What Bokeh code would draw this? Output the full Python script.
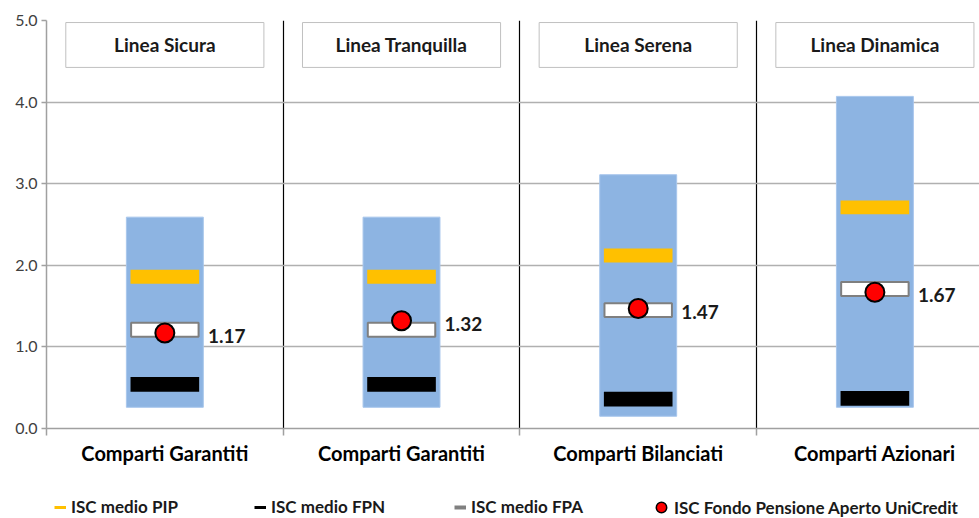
from bokeh.plotting import figure
from bokeh.layouts import column
from bokeh.models import FixedTicker, Legend, LegendItem, Range1d, PrintfTickFormatter
from bokeh.core.properties import value
from bokeh.embed import file_html
from bokeh.resources import INLINE

# ---- data ----
lines = ["Linea Sicura", "Linea Tranquilla", "Linea Serena", "Linea Dinamica"]
categories = ["Comparti Garantiti", "Comparti Garantiti", "Comparti Bilanciati", "Comparti Azionari"]
range_min = [0.26, 0.26, 0.15, 0.26]
range_max = [2.59, 2.59, 3.11, 4.07]
isc_pip = [1.86, 1.86, 2.12, 2.71]
isc_fpn = [0.54, 0.54, 0.36, 0.37]
isc_fpa = [1.21, 1.21, 1.45, 1.71]
isc_unicredit = [1.17, 1.32, 1.47, 1.67]
y_ticks = [0, 1, 2, 3, 4, 5]
title_level = 4.70
legend_labels = ["ISC medio PIP", "ISC medio FPN", "ISC medio FPA", "ISC Fondo Pensione Aperto UniCredit"]

FONT = "Lato"
NAN = float("nan")
xs = [i + 0.5 for i in range(len(lines))]

p = figure(width=979, height=490, output_backend="svg", toolbar_location=None,
           x_range=Range1d(0, 3.942), y_range=Range1d(0, 5),
           min_border_left=46, min_border_right=0, min_border_top=20, min_border_bottom=62)
p.outline_line_color = None
p.background_fill_color = "white"
p.border_fill_color = "white"

# grids
p.ygrid.ticker = FixedTicker(ticks=y_ticks)
p.ygrid.grid_line_color = "#b0b0b0"
p.ygrid.grid_line_width = 1.5
p.xgrid.ticker = FixedTicker(ticks=[1, 2, 3])
p.xgrid.grid_line_color = "#000000"
p.xgrid.grid_line_width = 1.2

# y axis
p.yaxis.ticker = FixedTicker(ticks=y_ticks)
p.yaxis.formatter = PrintfTickFormatter(format="%.1f")
p.yaxis.axis_line_color = "#a0a0a0"
p.yaxis.axis_line_width = 1.5
p.yaxis.major_tick_line_color = "#a0a0a0"
p.yaxis.major_tick_line_width = 1.5
p.yaxis.major_tick_out = 5
p.yaxis.major_tick_in = 0
p.yaxis.minor_tick_line_color = None
p.yaxis.major_label_standoff = 4
p.yaxis.major_label_text_font = FONT
p.yaxis.major_label_text_font_size = "16px"
p.yaxis.major_label_text_color = "#404040"

# x axis (category labels centred in each panel, tick marks at panel borders)
p.xaxis.ticker = FixedTicker(ticks=xs, minor_ticks=[0, 1, 2, 3, 4])
p.xaxis.major_label_overrides = {x: c for x, c in zip(xs, categories)}
p.xaxis.axis_line_color = "#a0a0a0"
p.xaxis.axis_line_width = 1.5
p.xaxis.major_tick_line_color = None
p.xaxis.minor_tick_line_color = "#a0a0a0"
p.xaxis.minor_tick_line_width = 1.5
p.xaxis.minor_tick_out = 7
p.xaxis.minor_tick_in = 0
p.xaxis.major_label_standoff = 5
p.xaxis.major_label_text_font = FONT
p.xaxis.major_label_text_font_size = "20px"
p.xaxis.major_label_text_font_style = "bold"
p.xaxis.major_label_text_color = "#000000"

# ranges (blue bars)
p.vbar(x=xs, top=range_max, bottom=range_min, width=0.325,
       fill_color="#8DB4E2", line_color="#A8C6EC", line_width=1)

# average markers
p.rect(x=xs, y=isc_pip, width=0.29, height=0.17, fill_color="#FFC000", line_color=None)
p.rect(x=xs, y=isc_fpn, width=0.29, height=0.18, fill_color="#000000", line_color=None)
p.rect(x=xs, y=isc_fpa, width=0.285, height=0.17, fill_color="white",
       line_color="#7f7f7f", line_width=2)

# UniCredit dots
p.scatter(x=xs, y=isc_unicredit, size=19, fill_color="#FF0000", line_color="#000000", line_width=2)
p.text(x=[x + 0.182 for x in xs], y=isc_unicredit, text=[f"{v:.2f}" for v in isc_unicredit],
       text_font=value(FONT), text_font_size="19px", text_font_style="bold",
       text_baseline="middle", text_align="left", text_color="#1a1a1a", y_offset=3)

# title boxes
p.rect(x=xs, y=[title_level] * 4, width=0.837, height=0.55, fill_color="white",
       line_color="#c0c0c0", line_width=1)
p.text(x=xs, y=[title_level] * 4, text=lines, text_font=value(FONT), text_font_size="19px",
       text_font_style="bold", text_align="center", text_baseline="middle", text_color="#1a1a1a")

# legend in its own strip below the chart (frame aligned with the chart frame)
lg = figure(width=979, height=28, output_backend="svg", toolbar_location=None,
            x_range=Range1d(0, 1), y_range=Range1d(0, 1), x_axis_type=None, y_axis_type=None,
            min_border=0)
lg.outline_line_color = None
lg.xgrid.visible = False
lg.ygrid.visible = False
r_pip = lg.line(x=[NAN, NAN], y=[NAN, NAN], line_color="#FFC000", line_width=3)
r_fpn = lg.line(x=[NAN, NAN], y=[NAN, NAN], line_color="#000000", line_width=3)
r_fpa = lg.line(x=[NAN, NAN], y=[NAN, NAN], line_color="#808080", line_width=4)
r_uc = lg.scatter(x=[NAN], y=[NAN], size=12, fill_color="#FF0000", line_color="#000000", line_width=1.5)


def style(leg):
    leg.border_line_color = None
    leg.background_fill_alpha = 0
    leg.label_text_font = FONT
    leg.label_text_font_size = "17px"
    leg.label_text_font_style = "bold"
    leg.label_text_color = "#1a1a1a"
    leg.spacing = 0
    leg.padding = 0
    leg.margin = 0


legend1 = Legend(items=[LegendItem(label=l, renderers=[r])
                        for l, r in zip(legend_labels[:3], [r_pip, r_fpn, r_fpa])],
                 orientation="horizontal", location=(8, 1))
style(legend1)
legend1.glyph_width = 12
legend1.glyph_height = 16
legend1.label_standoff = 5
legend1.label_width = 183
lg.add_layout(legend1, "center")

legend2 = Legend(items=[LegendItem(label=legend_labels[3], renderers=[r_uc])],
                 orientation="horizontal", location=(602, -4))
style(legend2)
legend2.glyph_width = 26
legend2.glyph_height = 30
legend2.label_standoff = 0
lg.add_layout(legend2, "center")

open("out.html", "w").write(file_html(column(p, lg, spacing=0), INLINE))
